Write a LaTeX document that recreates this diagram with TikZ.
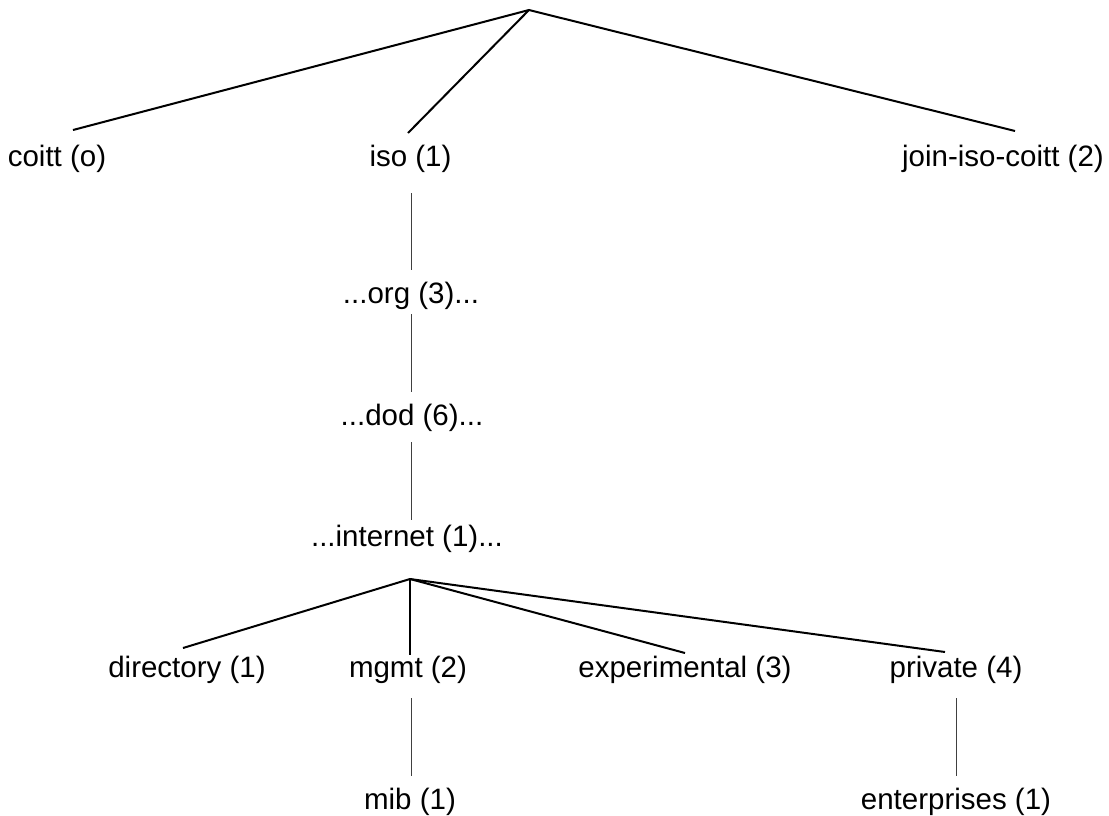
\documentclass[tikz,border=0pt]{standalone}
\usepackage{fontspec}
\setmainfont{Liberation Sans}
\begin{document}
\begin{tikzpicture}[x=1pt,y=-1pt,
  label/.style={anchor=base,inner sep=0pt,font=\fontsize{29.5}{35}\selectfont},
  branch/.style={line width=2pt,black},
  stem/.style={line width=1pt,black!75}]
\useasboundingbox (0,0) rectangle (1109,815);

% labels
\node[label] (coitt) at (57,166) {coitt (o)};
\node[label] (iso) at (410.5,166) {iso (1)};
\node[label] (joint) at (1003,166) {join-iso-coitt (2)};
\node[label] (org) at (411,303) {...org (3)...};
\node[label] (dod) at (412,425) {...dod (6)...};
\node[label] (internet) at (407,546) {...internet (1)...};
\node[label] (directory) at (187,677) {directory (1)};
\node[label] (mgmt) at (408,677) {mgmt (2)};
\node[label] (experimental) at (685,677) {experimental (3)};
\node[label] (private) at (956,677) {private (4)};
\node[label] (mib) at (410,809) {mib (1)};
\node[label] (enterprises) at (956,809) {enterprises (1)};

% branching points and line ends
\coordinate (root) at (529,10);
\coordinate (coitt-in) at (73,130);
\coordinate (iso-in) at (408,133);
\coordinate (joint-in) at (1015,131);
\coordinate (iso-out) at (411,193);
\coordinate (org-in) at (411,270);
\coordinate (org-out) at (411,314);
\coordinate (dod-in) at (411,392);
\coordinate (dod-out) at (411,442);
\coordinate (internet-in) at (411,520);
\coordinate (internet-out) at (410,579);
\coordinate (directory-in) at (183,648);
\coordinate (mgmt-in) at (410,655);
\coordinate (experimental-in) at (685,653);
\coordinate (private-in) at (945,652);
\coordinate (mgmt-out) at (411,698);
\coordinate (mib-in) at (411,776);
\coordinate (private-out) at (956,698);
\coordinate (enterprises-in) at (956,776);

% top level
\draw[branch] (coitt-in) -- (root) -- (joint-in);
\draw[branch] (root) -- (iso-in);

% chain below iso
\draw[stem] (iso-out) -- (org-in);
\draw[stem] (org-out) -- (dod-in);
\draw[stem] (dod-out) -- (internet-in);

% children of internet
\draw[branch] (internet-out) -- (directory-in);
\draw[branch] (internet-out) -- (mgmt-in);
\draw[branch] (internet-out) -- (experimental-in);
\draw[branch] (internet-out) -- (private-in);

% leaves
\draw[stem] (mgmt-out) -- (mib-in);
\draw[stem] (private-out) -- (enterprises-in);
\end{tikzpicture}
\end{document}
